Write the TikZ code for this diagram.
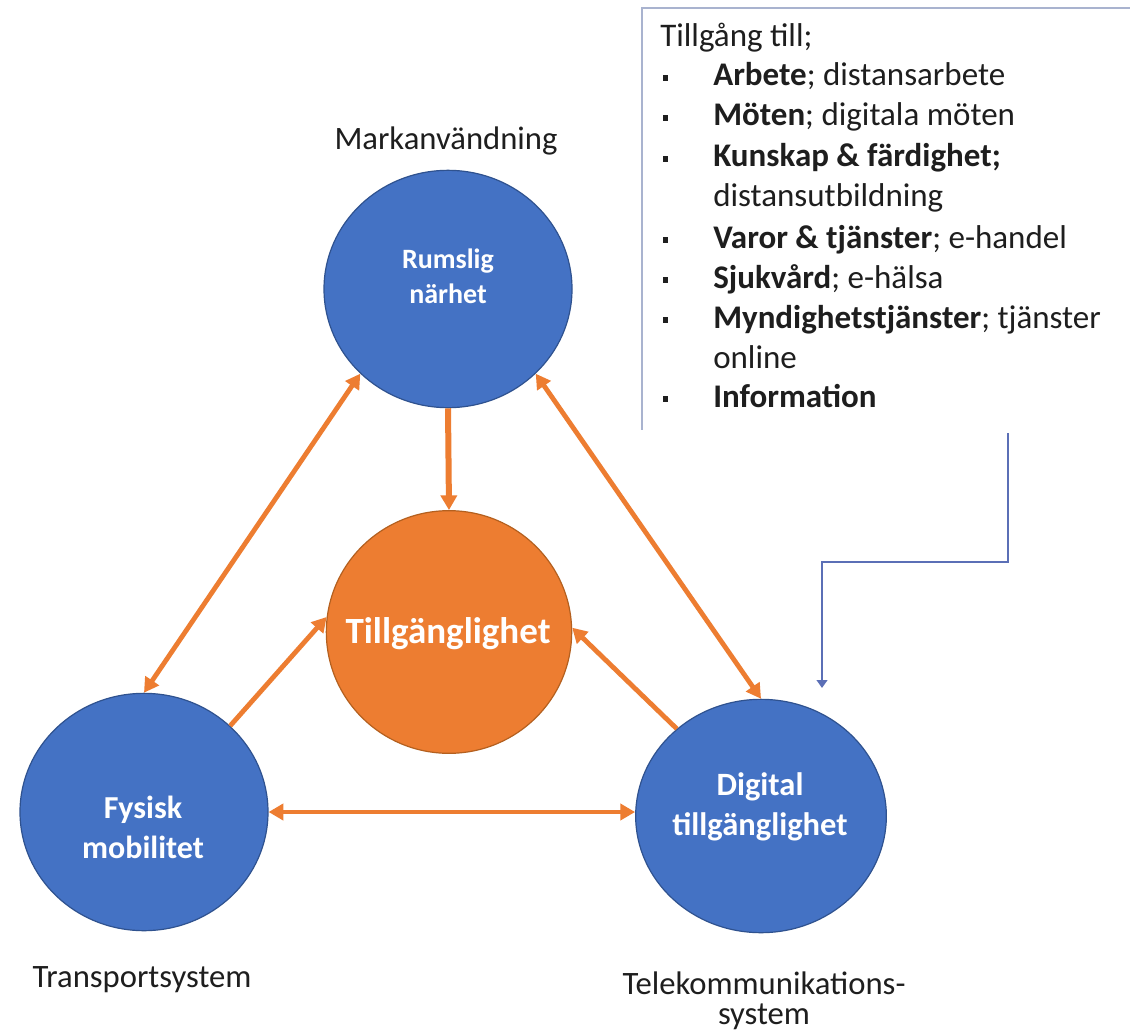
\documentclass[tikz,border=0pt]{standalone}
\usepackage{fontspec}
\setmainfont{Carlito}
\usetikzlibrary{shapes.geometric,arrows.meta,calc}
\definecolor{cblue}{HTML}{4472C4}
\definecolor{cblueline}{HTML}{2F528F}
\definecolor{corange}{HTML}{ED7D31}
\definecolor{corangeline}{HTML}{B4601F}
\definecolor{cconn}{HTML}{5B6FB6}
\definecolor{cbox}{HTML}{A9B3CF}
\definecolor{ctxt}{HTML}{1E1E1E}
\newcommand\fpx[2]{\fontsize{#1}{#2}\selectfont}
\newcommand\lbul{\makebox[39pt][l]{\hspace*{1.2pt}\rule[4pt]{4.2pt}{4.2pt}}}
\begin{document}
\begin{tikzpicture}[x=0.75pt,y=-0.75pt,
  bluecirc/.style={ellipse, fill=cblue, draw=cblueline, line width=0.9pt, inner sep=0,
    minimum width=186pt, minimum height=178pt},
  oracirc/.style={ellipse, fill=corange, draw=corangeline, line width=0.9pt, inner sep=0,
    minimum width=184pt, minimum height=182pt},
  ctext/.style={text=white, align=center, inner sep=0, anchor=base},
  plain/.style={text=ctxt, align=center, inner sep=0, anchor=base, font=\fpx{24.5}{24.75}},
  listline/.style={anchor=base west, inner sep=0, text=ctxt, font=\fpx{24.75}{30}},
  oarrow/.style={draw=corange, line width=3.6pt,
    {Triangle[length=11pt,width=12pt]}-{Triangle[length=11pt,width=12pt]}},
  oarrowone/.style={draw=corange, line width=3.6pt, -{Triangle[length=11pt,width=12pt]}},
  conn/.style={draw=cconn, line width=1.6pt, -{Triangle[length=6pt,width=8pt]}},
  boxline/.style={draw=cbox, line width=1.5pt}
]
\useasboundingbox[fill=white] (0,0) rectangle (1130,1034);

% text box frame (top and left side only)
\draw[boxline] (1130,8) -- (642,8) -- (642,430);

% list text
\node[listline] (l0) at (660,47) {Tillgång till;};
\node[listline] (l1) at (661,86) {\lbul\textbf{Arbete}; distansarbete};
\node[listline] (l2) at (661,126) {\lbul\textbf{Möten}; digitala möten};
\node[listline] (l3) at (661,167) {\lbul\textbf{Kunskap \& färdighet;}};
\node[listline] (l3b) at (713,207) {distansutbildning};
\node[listline] (l4) at (661,248) {\lbul\textbf{Varor \& tjänster}; e-handel};
\node[listline] (l5) at (661,288) {\lbul\textbf{Sjukvård}; e-hälsa};
\node[listline] (l6) at (661,328) {\lbul\textbf{Myndighetstjänster}; tjänster};
\node[listline] (l6b) at (713,368) {online};
\node[listline] (l7) at (661,407) {\lbul\textbf{Information}};

% circles
\node[bluecirc] (top) at (448,289) {};
\node[oracirc] (ora) at (449,632) {};
\node[bluecirc] (fys) at (144,812) {};
\node[bluecirc, minimum width=188pt, minimum height=175pt] (dig) at (761,816) {};

% circle texts (anchor base = baseline of last line)
\node[ctext, font=\bfseries\fpx{21}{26.25}] (toptxt) at (448,303) {Rumslig\\närhet};
\node[ctext, font=\bfseries\fpx{27.75}{30}] (oratxt) at (448,643) {Tillgänglighet};
\node[ctext, font=\bfseries\fpx{24}{30}] (fystxt) at (143,858) {Fysisk\\mobilitet};
\node[ctext, font=\bfseries\fpx{24.4}{30}] (digtxt) at (760,835) {Digital\\tillgänglighet};

% outer labels
\node[plain] (lab1) at (446,150) {Markanvändning};
\node[plain] (lab2) at (142,987) {Transportsystem};
\node[plain, font=\fpx{24.5}{22.5}] (lab3) at (764,1024) {Telekommunikations-\\system};

% orange connectors
\draw[oarrowone, line width=4.5pt] (top.south) -- (ora.north);
\draw[oarrow] (top.224) -- (fys.north);
\draw[oarrow] (top.316) -- (dig.north);
\draw[oarrowone] (fys.45) -- (ora.173);
\draw[oarrowone] (dig.134) -- (ora.2);
\draw[oarrow] (fys.east) -- (fys.east -| dig.west);

% blue connector from text box
\coordinate (cstart) at (1008,433);
\coordinate (cend) at (822,688);
\draw[conn] (cstart) |- (cend |- 0,562) -- (cend);
\end{tikzpicture}
\end{document}
